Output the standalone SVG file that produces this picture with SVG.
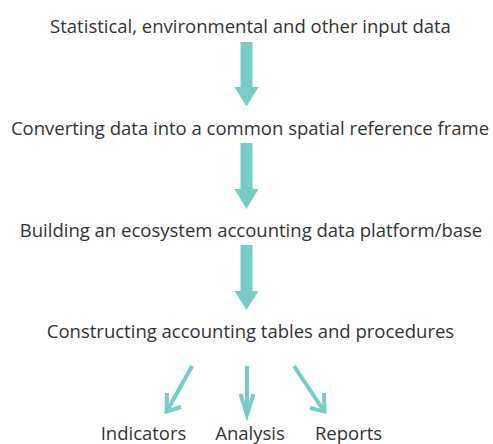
<svg xmlns="http://www.w3.org/2000/svg" width="493" height="444" viewBox="0 0 493 444">
<style>
text{font-family:"Open Sans","Noto Sans",sans-serif;font-size:18.5px;fill:#333333;text-anchor:middle}
.big{fill:#77CCC6}
.thin{stroke:#77CCC6;stroke-width:4;fill:none;stroke-linecap:butt;stroke-linejoin:miter}
</style>
<rect width="493" height="444" fill="#ffffff"/>
<g id="n1"><text x="250.5" y="33">Statistical, environmental and other input data</text></g>
<g id="n2"><text x="250" y="135">Converting data into a common spatial reference frame</text></g>
<g id="n3"><text x="251" y="237">Building an ecosystem accounting data platform/base</text></g>
<g id="n4"><text x="250.5" y="338">Constructing accounting tables and procedures</text></g>
<g id="n5"><text x="143.5" y="440">Indicators</text></g>
<g id="n6"><text x="250" y="440">Analysis</text></g>
<g id="n7"><text x="348.5" y="440">Reports</text></g>
<g id="connectors">
<polygon class="big" points="240.5,42 252.5,42 252.5,87 258.5,87 246.5,106.5 234.5,87 240.5,87"/>
<polygon class="big" points="240.5,143 252.5,143 252.5,189 258.5,189 246.5,209 234.5,189 240.5,189"/>
<polygon class="big" points="240.5,245 252.5,245 252.5,291 258.5,291 246.5,310 234.5,291 240.5,291"/>
<path class="thin" d="M192,366 L167,411 M167,393 L166.5,411.5 L181,407"/>
<path class="thin" d="M247,366 L247,414 M240.5,394 L247,415 L253.5,394"/>
<path class="thin" d="M294,366 L324,411 M310,408 L324.5,411.5 L324,393"/>
</g>
</svg>
